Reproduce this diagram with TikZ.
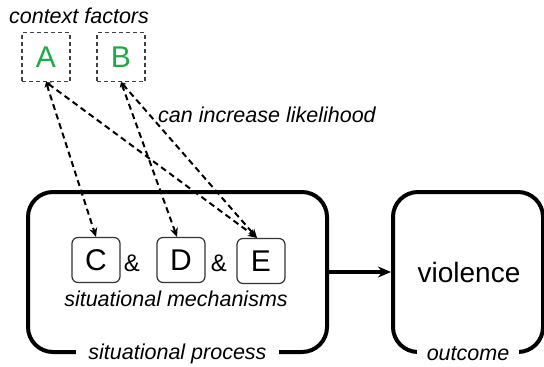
\documentclass[tikz,border=0pt]{standalone}
\usepackage{fontspec}
\setmainfont{Liberation Sans}
\usetikzlibrary{arrows.meta}
\definecolor{factorgreen}{RGB}{30,170,70}

\begin{document}
\begin{tikzpicture}[x=1pt,y=-1pt,
  labeltext/.style={font=\fontsize{21.5}{24}\selectfont\itshape},
  factorbox/.style={draw=black!75,dashed,line width=1.3pt,dash pattern=on 4pt off 3pt,
    minimum width=48pt,minimum height=49pt,text=factorgreen,font=\fontsize{30}{32}\selectfont},
  mechbox/.style={draw=black!80,rounded corners=6pt,line width=1.2pt,
    minimum width=48pt,minimum height=45pt,font=\fontsize{30}{32}\selectfont},
  stagebox/.style={draw,rounded corners=25pt,line width=4pt,minimum height=160pt},
  stagelabel/.style={labeltext,fill=white,inner xsep=12pt,inner ysep=1pt},
  link/.style={dashed,line width=2pt,dash pattern=on 6pt off 4pt,
    {Stealth[length=5pt,width=6pt]}-{Stealth[length=9pt,width=8pt]}}]
\useasboundingbox (0,0) rectangle (544,367);
\clip (0,0) rectangle (544,367);
% context factors
\node[labeltext] (ctx) at (79,16) {context factors};
\node[factorbox] (A) at (46,57) {A};
\node[factorbox] (B) at (121,57) {B};
\node[labeltext] (likely) at (267,115) {can increase likelihood};
% situational process
\node[stagebox,minimum width=299pt] (proc) at (177.5,272) {};
\node[mechbox] (C) at (96,260) {C};
\node[mechbox] (D) at (181,260) {D};
\node[mechbox] (E) at (261,261) {E};
\node[font=\fontsize{24}{26}\selectfont] (amp1) at (132,263) {\&};
\node[font=\fontsize{24}{26}\selectfont] (amp2) at (219,263) {\&};
\node[labeltext] (mech) at (176,299) {situational mechanisms};
\node[stagelabel] (proclab) at (proc.south) {situational process};
% outcome
\node[stagebox,minimum width=150pt] (out) at (468,272) {};
\node[font=\fontsize{28}{30}\selectfont] (viol) at (469,272) {violence};
\node[stagelabel,inner xsep=10pt] (outlab) at (out.south) {outcome};
% connectors
\draw[line width=3.5pt,-{Stealth[length=13pt,width=11pt]}] (proc.east) -- (out.west);
\draw[link] (A.south) -- (C.north);
\draw[link] (A.south) -- ([xshift=-4pt]E.north);
\draw[link] (B.south) -- ([xshift=-4pt]D.north);
\draw[link] (B.south) -- ([xshift=-4pt]E.north);
\end{tikzpicture}
\end{document}
